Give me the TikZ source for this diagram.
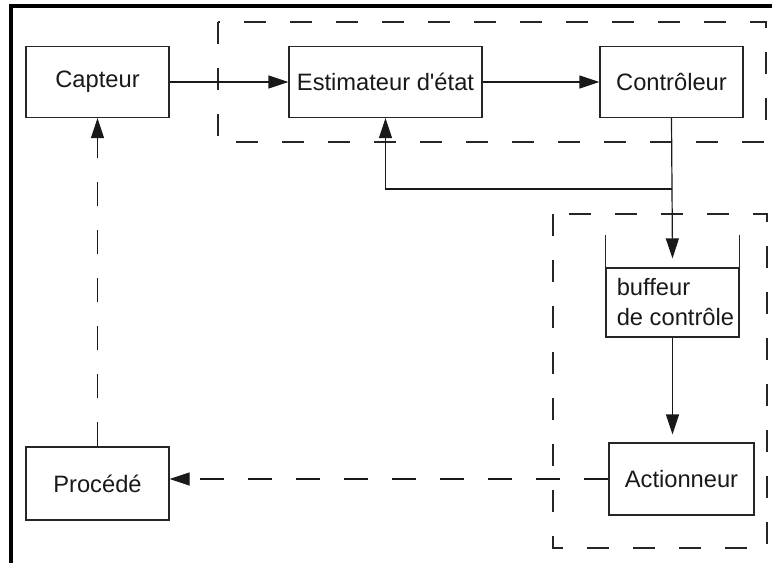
\documentclass[tikz,border=0pt]{standalone}
\usepackage{fontspec}
\setmainfont{Liberation Sans}
\usetikzlibrary{arrows.meta, positioning}

\begin{document}
\begin{tikzpicture}[x=0.5pt, y=-0.5pt, >={Triangle[length=10pt, width=6.5pt]},
  box/.style={draw=black!85, line width=0.6pt, minimum height=35.5pt, inner sep=0pt,
    text=black!90, font=\fontsize{11.85}{15}\selectfont},
  link/.style={->, draw=black!90, line width=0.6pt},
  dashlink/.style={link, dash pattern=on 12pt off 12pt},
  group/.style={draw=black!85, line width=0.6pt, dash pattern=on 11pt off 12pt}]

\useasboundingbox (0,0) rectangle (772,563);

% Frame (left and top edges only)
\draw[line width=1.7pt] (11,563) -- (11,6) -- (772,6);

% Dashed groups
\draw[group] (218,22) rectangle (766,142);
\draw[group] (553,214) rectangle (767,548);

% Blocks
\node[box, minimum width=71.5pt] (capteur) at (97.5,82) {Capteur};
\node[box, minimum width=96.5pt] (estim) at (385.5,82) {Estimateur d\textquotesingle état};
\node[box, minimum width=71.5pt] (ctrl) at (671.5,82) {Contrôleur};
\node[box, minimum width=72.5pt, minimum height=36pt] (action) at (681.5,479) {Actionneur};
\node[box, minimum width=71.5pt, minimum height=36.5pt] (proc) at (97.5,483.5) {Procédé};

% Control buffer (open at the top)
\node[box, minimum width=66.5pt, minimum height=34.5pt] (buffer) at (672.5,302.5) {};
\draw[draw=black!85, line width=0.6pt] (buffer.north west) -- ++(0,-32);
\draw[draw=black!85, line width=0.6pt] (buffer.north east) -- ++(0,-32);
\node[anchor=west, align=left, inner sep=0pt, text=black!90,
  font=\fontsize{11.85}{15}\selectfont] (buftext) at ([xshift=5.5pt]buffer.west)
  {buffeur\\de contrôle};

% Connectors
\coordinate (split) at (ctrl.south |- 0,189);
\draw[link] (capteur) -- (estim);
\draw[link] (estim) -- (ctrl);
\draw[link] (ctrl.south) -- ([yshift=4.5pt]buffer.north);
\draw[link] (split) -| (estim.south);
\draw[link, shorten >=4pt] (buffer.south) -- (buffer.south |- action.north);

% Dashed process loop
\draw[dashlink] (action.west) -- (action.west -| proc.east);
\draw[dashlink] (proc.north) -- (capteur.south);

\end{tikzpicture}
\end{document}
